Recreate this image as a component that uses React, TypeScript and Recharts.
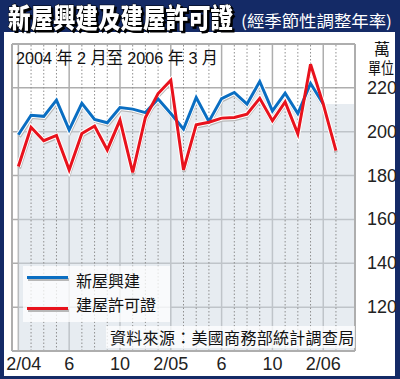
import { ComposedChart, Line, Area, XAxis, YAxis, CartesianGrid, ReferenceLine } from 'recharts';

// 新屋興建 (housing starts), 2/04 .. 2/06, 萬單位
const starts = [198.6, 207.5, 207, 214.4, 200.8, 212.9, 205.6, 204.1, 211, 210.3, 208.7, 214.9, 208.3,
  201.2, 215.6, 204.7, 215.1, 217.9, 212.6, 222.9, 209.5, 217.6, 208.3, 222, 212.6];
// 建屋許可證 (building permits), 2/04 .. 3/06
const permits = [184.1, 202, 195.9, 198.3, 182.6, 199.2, 202.6, 191.7, 205.3, 181.4, 206.5, 217.4, 223.5,
  182.6, 203.2, 204.3, 206.2, 206.5, 208, 215.2, 205, 213.6, 199, 230.8, 212.6, 191.4];
const xTicks = [0, 4, 8, 12, 16, 20, 24];
const xTickLabels = ['2/04', '6', '10', '2/05', '6', '10', '2/06'];
const yTicks = [120, 140, 160, 180, 200, 220];
const monthIdx = permits.map((_, i) => i);

const lastStart = starts[starts.length - 1];
const data = [
  ...permits.map((p, i) => ({
    i,
    starts: i < starts.length ? starts[i] : null,
    permits: p,
    band: i < starts.length ? starts[i] : lastStart,
  })),
  { i: 26.5, starts: null, permits: null, band: lastStart },
];

const NAVY = '#142a66';
const GRID = '#aeaeae';
const NUM_FONT = '"Liberation Sans Narrow", "Liberation Sans", Arial, sans-serif';
const CJK_FONT = '"Liberation Sans", "Noto Sans CJK TC", sans-serif';
const CJK = '"Noto Sans CJK TC", sans-serif';

const XTick = ({ x, y, payload, index }: any) => (
  <text x={x + (index === 0 ? 5.5 : 0)} y={y + 19} textAnchor="middle" fontSize={18}
    fontFamily={NUM_FONT} fill="#222">
    {xTickLabels[xTicks.indexOf(payload.value)]}
  </text>
);

const YTick = ({ x, y, payload }: any) => (
  <text x={x + 12} y={y + 6} textAnchor="start" fontSize={18} fontFamily={NUM_FONT} fill="#222">
    {payload.value}
  </text>
);

export default function App() {
  return (
    <div style={{ position: 'relative', width: 400, height: 379, background: NAVY, overflow: 'hidden' }}>
      <style>{'body{margin:0}'}</style>
      <div style={{ position: 'absolute', left: 4, top: 32, width: 391, height: 344, background: '#fff' }} />

      <svg width={400} height={42} style={{ position: 'absolute', left: 0, top: 0 }}>
        <text x={8} y={28} fontFamily={CJK} fontWeight={900} fontSize={27} fill="#fff" stroke="#000" strokeWidth={1}
          paintOrder="stroke" textLength={225} lengthAdjust="spacingAndGlyphs"
          style={{ filter: 'drop-shadow(2px 2px 0 #000)' }}>新屋興建及建屋許可證</text>
        <text x={241} y={27} fontFamily={CJK} fontSize={16} fill="#fff"
          textLength={151} lengthAdjust="spacingAndGlyphs">(經季節性調整年率)</text>
      </svg>

      <div style={{ position: 'absolute', left: 0, top: 0 }}>
        <ComposedChart width={400} height={379} data={data} margin={{ top: 44, right: 0, bottom: 0, left: 12 }}>
          <CartesianGrid stroke={GRID} strokeWidth={1.5} />
          {monthIdx.filter((m) => m % 4 !== 0).map((m) => (
            <ReferenceLine key={m} x={m} stroke="#8f8f8f" strokeWidth={1} strokeDasharray="1.5 2" />
          ))}
          <XAxis type="number" dataKey="i" domain={[-0.5, 26.5]} ticks={xTicks} allowDataOverflow
            axisLine={false} tickLine={false} tickSize={0} tickMargin={0} height={28} tick={<XTick />} />
          <YAxis orientation="right" domain={[100, 240]} ticks={yTicks} allowDataOverflow
            axisLine={false} tickLine={false} tickSize={0} tickMargin={0} width={45} tick={<YTick />} />
          <XAxis xAxisId="s" type="number" dataKey="i" domain={[-0.58, 26.42]} hide />
          <YAxis yAxisId="s" domain={[100.9, 240.9]} hide />

          <Area type="linear" dataKey="band" stroke="none" fill="#cfd9e3" fillOpacity={0.5} isAnimationActive={false} />
          <ReferenceLine x={-0.5} stroke={GRID} strokeWidth={2} />
          <ReferenceLine x={26.5} stroke={GRID} strokeWidth={2} />
          <ReferenceLine y={240} stroke={GRID} strokeWidth={2} />
          <ReferenceLine y={100} stroke={GRID} strokeWidth={2} />

          <Line xAxisId="s" yAxisId="s" type="linear" dataKey="starts" stroke="#b8b8b8" strokeWidth={3.5}
            dot={false} isAnimationActive={false} />
          <Line xAxisId="s" yAxisId="s" type="linear" dataKey="permits" stroke="#b8b8b8" strokeWidth={3.5}
            dot={false} isAnimationActive={false} />
          <Line type="linear" dataKey="starts" stroke="#fff" strokeWidth={5} dot={false} isAnimationActive={false} />
          <Line type="linear" dataKey="permits" stroke="#fff" strokeWidth={5} dot={false} isAnimationActive={false} />
          <Line type="linear" dataKey="starts" stroke="#0a6ec2" strokeWidth={3} dot={false} isAnimationActive={false} />
          <Line type="linear" dataKey="permits" stroke="#e8121c" strokeWidth={3} dot={false} isAnimationActive={false} />
        </ComposedChart>
      </div>

      <svg width={400} height={379} style={{ position: 'absolute', left: 0, top: 0, pointerEvents: 'none' }}>
        <text x={16} y={64} fontFamily={CJK_FONT} fontSize={17} fill="#111"
          textLength={202} lengthAdjust="spacingAndGlyphs">2004 年 2 月至 2006 年 3 月</text>
        <text x={382} y={55} textAnchor="middle" fontFamily={CJK} fontSize={16} fill="#111">萬</text>
        <text x={368} y={74} fontFamily={CJK} fontSize={16} fill="#111"
          textLength={26} lengthAdjust="spacingAndGlyphs">單位</text>
      </svg>

      <div style={{ position: 'absolute', left: 23, top: 266, width: 147, height: 56,
        background: 'rgba(255,255,255,0.75)' }}>
        <div style={{ position: 'absolute', left: 4, top: 10, width: 41, height: 3, background: '#0a6ec2',
          boxShadow: '1px 2px 0 #b8b8b8' }} />
        <div style={{ position: 'absolute', left: 4, top: 41, width: 41, height: 3, background: '#e8121c',
          boxShadow: '1px 2px 0 #b8b8b8' }} />
        <div style={{ position: 'absolute', left: 53, top: 4, whiteSpace: 'nowrap', fontSize: 16, lineHeight: '20px',
          fontFamily: CJK, color: '#111' }}>新屋興建</div>
        <div style={{ position: 'absolute', left: 53, top: 28, whiteSpace: 'nowrap', fontSize: 16, lineHeight: '20px',
          fontFamily: CJK, color: '#111' }}>建屋許可證</div>
      </div>

      <div style={{ position: 'absolute', left: 106, top: 326, width: 249, height: 22,
        background: 'rgba(255,255,255,0.75)' }}>
        <div style={{ position: 'absolute', left: 4, top: 1, whiteSpace: 'nowrap', fontSize: 16, lineHeight: '20px',
          letterSpacing: 0.3, fontFamily: CJK, color: '#111' }}>
          資料來源：美國商務部統計調查局
        </div>
      </div>
    </div>
  );
}
